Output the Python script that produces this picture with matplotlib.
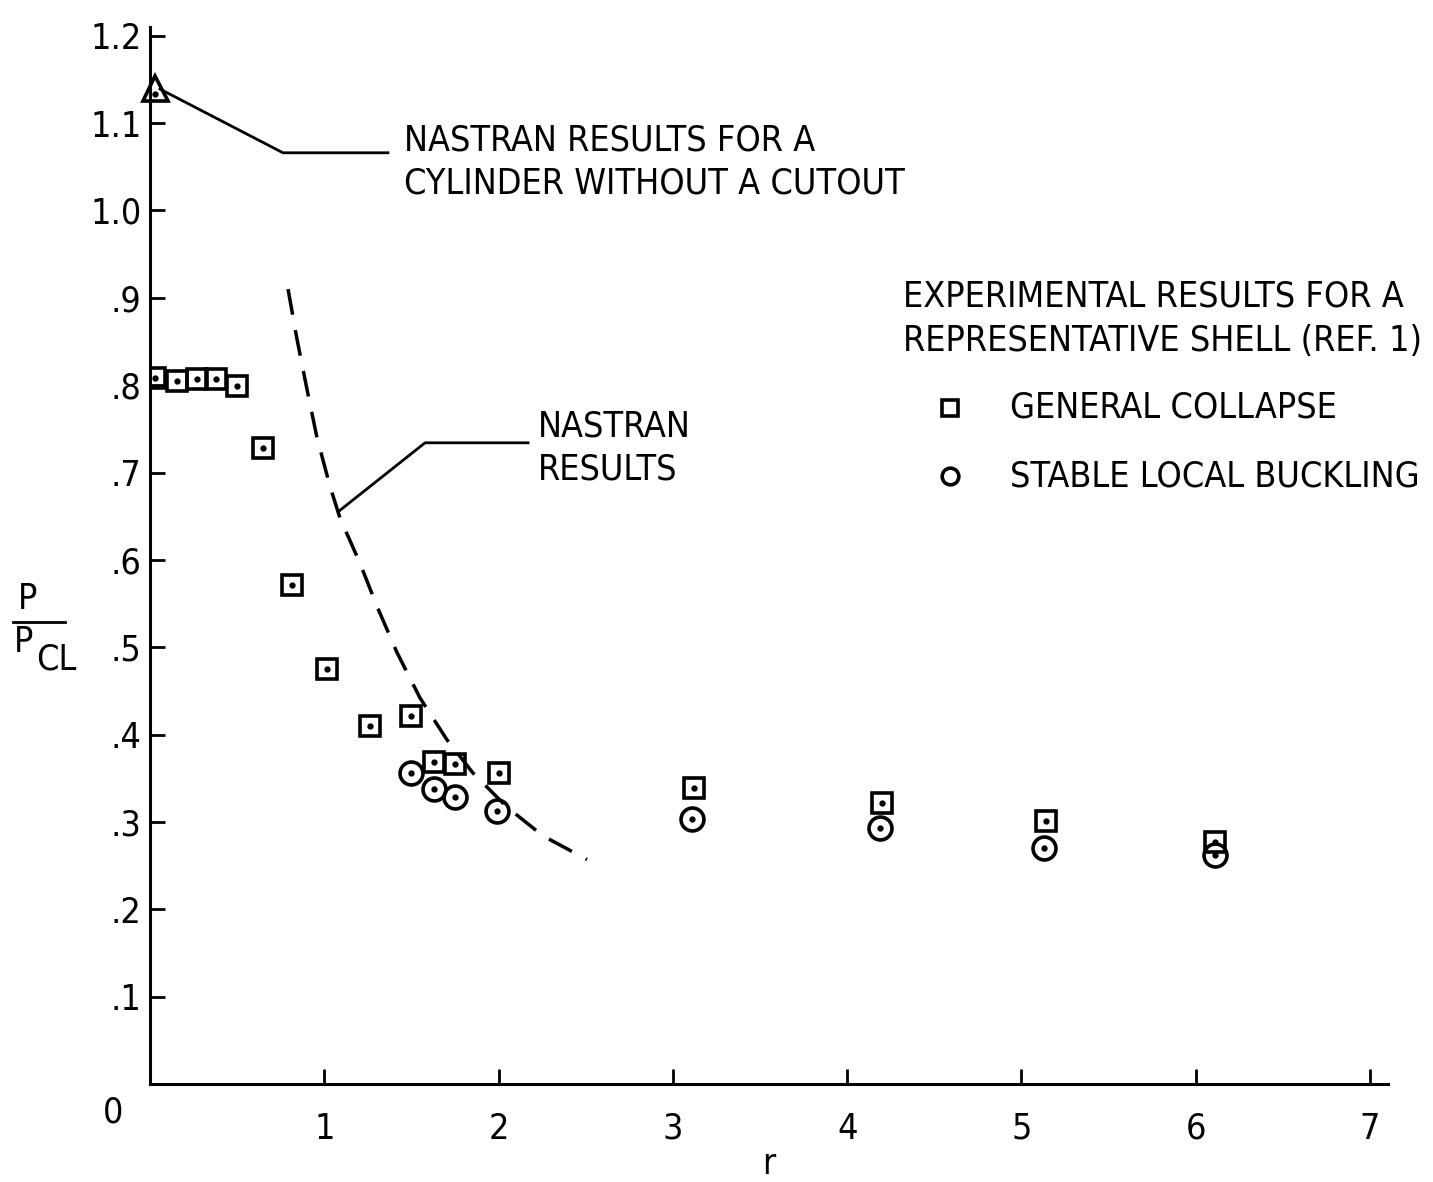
import matplotlib
matplotlib.use("Agg")
import matplotlib.pyplot as plt
from matplotlib import font_manager as fm
from matplotlib.lines import Line2D

# general collapse (squares)
gc_r = [0.03, 0.155, 0.27, 0.38, 0.50, 0.65, 0.815, 1.015, 1.26, 1.50, 1.63, 1.75, 2.00, 3.12, 4.20, 5.14, 6.11]
gc_p = [0.808, 0.805, 0.807, 0.807, 0.799, 0.728, 0.571, 0.475, 0.410, 0.421, 0.369, 0.366, 0.356, 0.339, 0.322, 0.301, 0.277]

# stable local buckling (circles)
lb_r = [1.50, 1.63, 1.75, 1.99, 3.11, 4.19, 5.13, 6.11]
lb_p = [0.356, 0.338, 0.329, 0.312, 0.303, 0.293, 0.270, 0.262]

# nastran curve (dashed)
nas_r = [0.792, 0.843, 0.901, 0.958, 1.033, 1.090, 1.205, 1.302, 1.417, 1.549, 1.704, 1.853, 2.048, 2.255, 2.507]
nas_p = [0.910, 0.853, 0.795, 0.740, 0.684, 0.648, 0.596, 0.547, 0.494, 0.442, 0.394, 0.356, 0.317, 0.284, 0.257]

# nastran, cylinder without cutout
cyl_r = [0.03]
cyl_p = [1.14]

xticks = [1, 2, 3, 4, 5, 6, 7]
yticks = [0.1, 0.2, 0.3, 0.4, 0.5, 0.6, 0.7, 0.8, 0.9, 1.0, 1.1, 1.2]
ylabels = ['.1', '.2', '.3', '.4', '.5', '.6', '.7', '.8', '.9', '1.0', '1.1', '1.2']

# pick a narrow font if there is one, else Roboto
narrow = [f for f in fm.fontManager.ttflist
          if ('Narrow' in f.name or 'Condensed' in f.name or 'condensed' in str(f.stretch))
          and f.style == 'normal' and f.weight in (400, 'normal', 'regular', 500, 'medium')]
if narrow:
    fp = fm.FontProperties(fname=narrow[0].fname)
else:
    fp = fm.FontProperties(family=['Roboto', 'DejaVu Sans'])

W, H = 1433, 1182
fig = plt.figure(figsize=(W / 100, H / 100), dpi=100)

# size the font so the callout width is about like the original (411 px)
probe = fig.text(0, 0, 'NASTRAN RESULTS FOR A', fontproperties=fp, fontsize=20)
r = fig.canvas.get_renderer()
w20 = probe.get_window_extent(r).width
probe.remove()
fs = min(28, 20 * 411 / w20)
fp.set_size(fs)

ax = fig.add_axes([150 / W, 1 - 1084 / H, 1238 / W, (1084 - 27) / H])
ax.set_xlim(0, 7.103)
ax.set_ylim(0, 1.21)

for s in ['top', 'right']:
    ax.spines[s].set_visible(False)
for s in ['left', 'bottom']:
    ax.spines[s].set_linewidth(2.2)

ax.set_xticks(xticks)
ax.set_xticklabels([str(t) for t in xticks], fontproperties=fp)
ax.set_yticks(yticks)
ax.set_yticklabels(ylabels, fontproperties=fp)
ax.tick_params(axis='both', direction='in', length=11, width=2)
ax.tick_params(axis='x', pad=20)
ax.tick_params(axis='y', pad=6)

ax.text(-0.21, -0.013, '0', fontproperties=fp, ha='center', va='top')
ax.set_xlabel('r', fontproperties=fp, labelpad=1)

# data
ms_kw = dict(linestyle='none', color='black', markerfacecolor='none')
ax.plot(gc_r, gc_p, marker='s', markersize=15, markeredgewidth=2.6, **ms_kw)
ax.plot(lb_r, lb_p, marker='o', markersize=16.5, markeredgewidth=2.6, **ms_kw)
ax.plot(cyl_r, cyl_p, marker='^', markersize=18, markeredgewidth=2.6, clip_on=False, **ms_kw)
ax.plot(gc_r + lb_r + cyl_r, gc_p + lb_p + [1.133], 'o', color='black', markersize=3.5, clip_on=False)
ax.plot(nas_r, nas_p, color='black', linewidth=2.5, dashes=(7.5, 4.5))

# leader lines
ax.plot([0.057, 0.763, 1.365], [1.139, 1.066, 1.066], color='black', linewidth=2)
ax.text(1.457, 1.080, 'NASTRAN RESULTS FOR A', fontproperties=fp, va='center')
ax.text(1.457, 1.031, 'CYLINDER WITHOUT A CUTOUT', fontproperties=fp, va='center')

ax.plot([1.079, 1.578, 2.169], [0.655, 0.734, 0.734], color='black', linewidth=2)
ax.text(2.226, 0.753, 'NASTRAN', fontproperties=fp, va='center')
ax.text(2.226, 0.703, 'RESULTS', fontproperties=fp, va='center')

# legend block
ax.text(4.32, 0.902, 'EXPERIMENTAL RESULTS FOR A', fontproperties=fp, va='center')
ax.text(4.32, 0.851, 'REPRESENTATIVE SHELL (REF. 1)', fontproperties=fp, va='center')
ax.plot([4.59], [0.774], marker='s', markersize=12, markeredgewidth=2.6, **ms_kw)
ax.text(4.934, 0.774, 'GENERAL COLLAPSE', fontproperties=fp, va='center')
ax.plot([4.59], [0.696], marker='o', markersize=12, markeredgewidth=2.6, **ms_kw)
ax.text(4.934, 0.696, 'STABLE LOCAL BUCKLING', fontproperties=fp, va='center')

# y label as P / P_CL
fig.text(28 / W, 1 - 599 / H, 'P', fontproperties=fp, ha='center', va='center')
fig.add_artist(Line2D([13 / W, 65 / W], [1 - 622 / H, 1 - 622 / H], color='black', linewidth=2))
fig.text(24 / W, 1 - 642 / H, 'P', fontproperties=fp, ha='center', va='center')
fig.text(36 / W, 1 - 660 / H, 'CL', fontproperties=fp, ha='left', va='center')

fig.savefig('out.png', dpi=100)
